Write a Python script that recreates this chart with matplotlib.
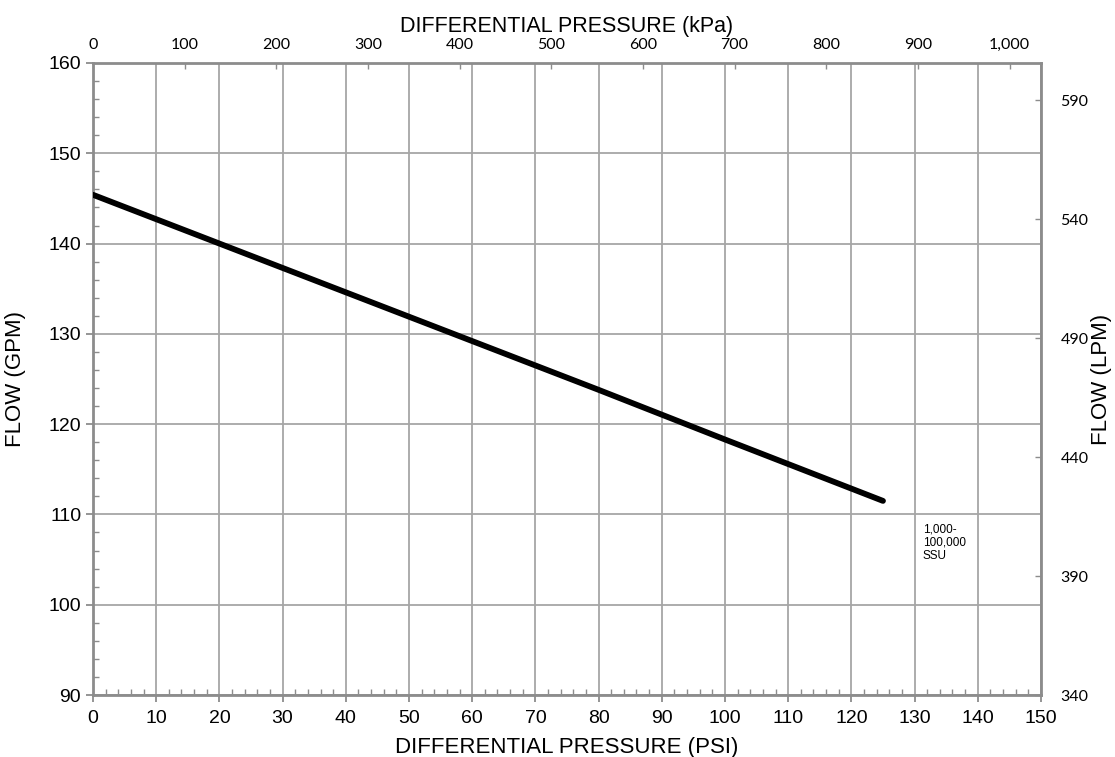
import matplotlib.pyplot as plt
from matplotlib.ticker import MultipleLocator, FuncFormatter

# flow curve, 1,000-100,000 SSU
pressure_psi = [0, 20, 40, 60, 80, 100, 125]
flow_gpm = [145.4, 140.0, 134.6, 129.2, 123.8, 118.3, 111.5]

kpa_ticks = [0, 100, 200, 300, 400, 500, 600, 700, 800, 900, 1000]
lpm_ticks = [340, 390, 440, 490, 540, 590]
curve_label = "1,000-\n100,000\nSSU"

PSI_TO_KPA = 6.89476
GPM_TO_LPM = 3.78541
grid_c = '#a6a6a6'
spine_c = '#8c8c8c'
arial = 'Liberation Sans'
calibri = 'Lato'

fig = plt.figure(figsize=(11.15, 7.57), dpi=100)
ax = fig.add_axes([0.0834, 0.0819, 0.8502, 0.8349])

ax.plot(pressure_psi, flow_gpm, color='black', lw=4.2, solid_capstyle='round', zorder=3)
ax.text(131.3, 109.0, curve_label, fontsize=8.5, family=arial, va='top', ha='left',
        linespacing=1.15)

ax.set_xlim(0, 150)
ax.set_ylim(90, 160)
ax.xaxis.set_major_locator(MultipleLocator(10))
ax.xaxis.set_minor_locator(MultipleLocator(2))
ax.yaxis.set_major_locator(MultipleLocator(10))
ax.yaxis.set_minor_locator(MultipleLocator(2))
ax.grid(True, which='major', color=grid_c, lw=1.3)
ax.tick_params(which='major', direction='out', length=5, color=spine_c, width=1.3,
               labelsize=14)
ax.tick_params(axis='x', which='major', pad=6)
ax.tick_params(which='minor', direction='in', length=4, color=spine_c, width=1)
for lab in ax.get_xticklabels() + ax.get_yticklabels():
    lab.set_family(arial)
for s in ax.spines.values():
    s.set_color(spine_c)
    s.set_linewidth(2)

ax.set_xlabel('DIFFERENTIAL PRESSURE (PSI)', fontsize=16, family=arial)
ax.set_ylabel('FLOW (GPM)', fontsize=16, family=arial)
ax.xaxis.set_label_coords(0.5, -0.066)
ax.yaxis.set_label_coords(-0.071, 0.5)

# kPa scale along the top
top = ax.secondary_xaxis('top', functions=(lambda p: p * PSI_TO_KPA,
                                           lambda k: k / PSI_TO_KPA))
top.set_xticks(kpa_ticks)
top.xaxis.set_major_formatter(FuncFormatter(lambda v, pos: f'{v:,.0f}'))
top.tick_params(direction='in', length=4, color=spine_c, width=1, labelsize=11.5, pad=8)
for lab in top.get_xticklabels():
    lab.set_family(calibri)
top.set_xlabel('DIFFERENTIAL PRESSURE (kPa)', fontsize=15.5, family=arial, labelpad=4)
top.spines['top'].set_visible(False)

# LPM scale on the right
right = ax.twinx()
right.set_ylim(340, 160 * GPM_TO_LPM)
right.set_yticks(lpm_ticks)
right.tick_params(direction='in', length=4, color=spine_c, width=1, labelsize=11.5, pad=14)
for lab in right.get_yticklabels():
    lab.set_family(calibri)
for s in right.spines.values():
    s.set_visible(False)
right.set_ylabel('FLOW (LPM)', fontsize=16, family=arial)
right.yaxis.set_label_coords(1.053, 0.5)

fig.savefig('out.png', dpi=100)
